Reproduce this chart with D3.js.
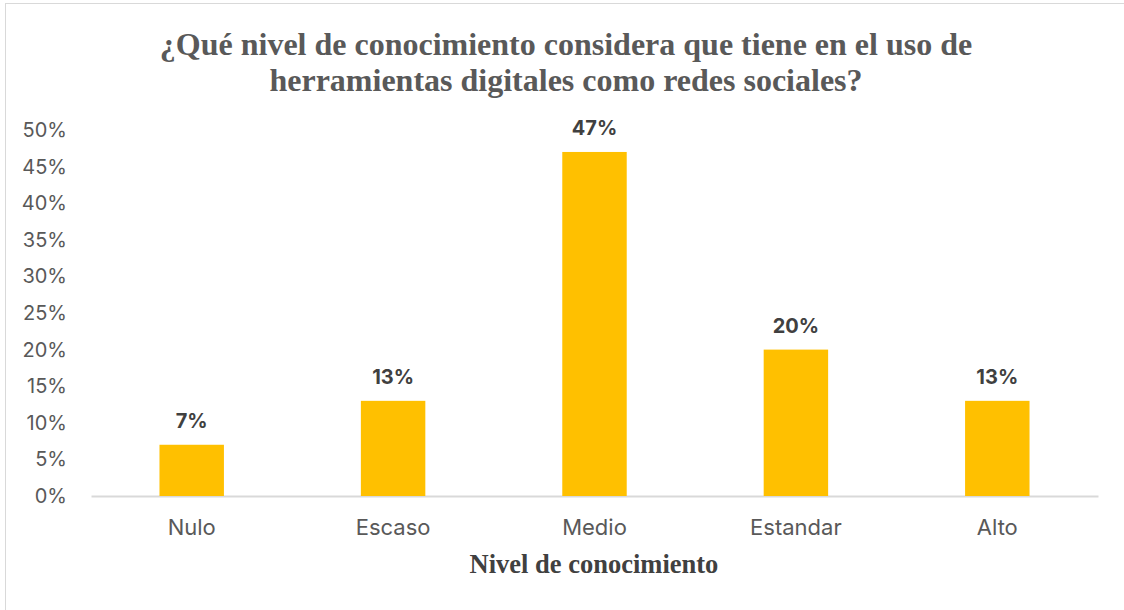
<!DOCTYPE html>
<html>
<head>
<meta charset="utf-8">
<script src="https://cdn.jsdelivr.net/npm/d3@7"></script>
<style>
  html, body { margin: 0; padding: 0; background: #fff; }
  svg { display: block; }
</style>
</head>
<body>
<svg id="chart" width="1124" height="610"></svg>
<script>
// Knowledge levels and share of respondents (%)
const categories = ["Nulo", "Escaso", "Medio", "Estandar", "Alto"];
const values = [7, 13, 47, 20, 13];
const yTicks = [0, 5, 10, 15, 20, 25, 30, 35, 40, 45, 50];
const titleLines = [
  "¿Qué nivel de conocimiento considera que tiene en el uso de",
  "herramientas digitales como redes sociales?"
];
const xAxisTitle = "Nivel de conocimiento";

const W = 1124, H = 610;
const margin = { left: 91, right: 26, top: 130, bottom: 114 };
const svg = d3.select("#chart");

// Chart frame
svg.append("rect")
  .attr("x", 5.5).attr("y", 3.5)
  .attr("width", W + 10).attr("height", H + 10)
  .attr("fill", "#fff")
  .attr("stroke", "#d9d9d9").attr("stroke-width", 1);

const x = d3.scaleBand()
  .domain(categories)
  .range([margin.left, W - margin.right])
  .paddingInner(0.68)
  .paddingOuter(0.34);

const y = d3.scaleLinear()
  .domain([0, 50])
  .range([H - margin.bottom, margin.top]);

const sans = "Inter, 'Open Sans', 'Noto Sans', sans-serif";
const serif = "'Liberation Serif', 'DejaVu Serif', serif";

// Y axis (labels only)
const yAxis = d3.axisLeft(y)
  .tickValues(yTicks)
  .tickSize(0)
  .tickPadding(0)
  .tickFormat(d => d + "%");
const gy = svg.append("g")
  .attr("transform", `translate(67,0)`)
  .call(yAxis);
gy.select(".domain").remove();
gy.selectAll("text")
  .attr("font-family", sans)
  .attr("font-size", 20)
  .attr("fill", "#595959");

// X axis
const xAxis = d3.axisBottom(x).tickSize(0).tickPadding(0);
const gx = svg.append("g")
  .attr("transform", `translate(0,${y(0)})`)
  .call(xAxis);
gx.select(".domain")
  .attr("stroke", "#d9d9d9")
  .attr("stroke-width", 2);
gx.selectAll("text")
  .attr("font-family", sans)
  .attr("font-size", 22)
  .attr("fill", "#595959")
  .attr("dy", null)
  .attr("y", 39);

// Bars
svg.append("g")
  .selectAll("rect")
  .data(values)
  .join("rect")
  .attr("x", (d, i) => x(categories[i]))
  .attr("y", d => y(d))
  .attr("width", x.bandwidth())
  .attr("height", d => y(0) - y(d))
  .attr("fill", "#ffc000");

// Value labels
svg.append("g")
  .selectAll("text")
  .data(values)
  .join("text")
  .attr("x", (d, i) => x(categories[i]) + x.bandwidth() / 2)
  .attr("y", d => y(d) - 17)
  .attr("text-anchor", "middle")
  .attr("font-family", sans)
  .attr("font-size", 20)
  .attr("font-weight", "bold")
  .attr("fill", "#404040")
  .text(d => d + "%");

// Chart title
svg.append("text")
  .attr("text-anchor", "middle")
  .attr("font-family", serif)
  .attr("font-size", 32)
  .attr("font-weight", "bold")
  .attr("fill", "#595959")
  .selectAll("tspan")
  .data(titleLines)
  .join("tspan")
  .attr("x", 566)
  .attr("y", (d, i) => 55 + i * 36)
  .text(d => d);

// X axis title
svg.append("text")
  .attr("x", 594)
  .attr("y", 573)
  .attr("text-anchor", "middle")
  .attr("font-family", serif)
  .attr("font-size", 26.5)
  .attr("font-weight", "bold")
  .attr("fill", "#404040")
  .text(xAxisTitle);
</script>
</body>
</html>
